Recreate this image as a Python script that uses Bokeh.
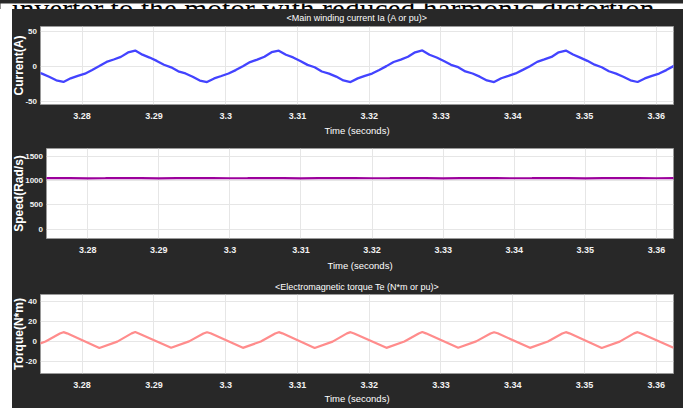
import math
from bokeh.plotting import figure
from bokeh.layouts import column, row
from bokeh.models import Spacer, FixedTicker, Range1d
from bokeh.embed import file_html
from bokeh.resources import INLINE
from bokeh.core.properties import value

header_text = "inverter to the motor with reduced harmonic distortion."
title_current = "<Main winding current Ia (A or pu)>"
title_torque = "<Electromagnetic torque Te (N*m or pu)>"
x_label = "Time (seconds)"
y_labels = ["Current(A)", "Speed(Rad/s)", "Torque(N*m)"]
x_ticks = [3.28, 3.29, 3.3, 3.31, 3.32, 3.33, 3.34, 3.35, 3.36]
x_tick_labels = ["3.28", "3.29", "3.3", "3.31", "3.32", "3.33", "3.34", "3.35", "3.36"]
current_yticks = [-50, 0, 50]
current_ytick_labels = ["-50", "0", "50"]
speed_yticks = [0, 500, 1000, 1500]
speed_ytick_labels = ["0", "500", "1000", "1500"]
torque_yticks = [-20, 0, 20, 40]
torque_ytick_labels = ["-20", "0", "20", "40"]

# sampling grid (1 ms) for the current trace
current_t = [round(3.2734 + 0.001 * i, 4) for i in range(91)]
current_a = [
    -7.2, -10.6, -15.2, -20.3, -22.6, -17.4, -13.8, -10.7, -5.4, 0.2,
    6.1, 9.6, 13.4, 19.8, 22.5, 16.6, 12.4, 7.6, 2.1, -1.6,
    -7.4, -10.4, -15.1, -20.6, -22.8, -17.6, -14.1, -10.5, -5.6, -0.1,
    5.9, 9.4, 13.6, 20.1, 22.3, 16.4, 12.6, 7.4, 1.9, -1.5,
    -7.6, -10.6, -14.9, -20.4, -22.7, -17.5, -13.9, -10.6, -5.5, 0.1,
    6.0, 9.5, 13.5, 19.9, 22.6, 16.5, 12.5, 7.5, 2.0, -1.4,
    -7.5, -10.5, -15.0, -20.5, -22.8, -17.3, -14.0, -10.4, -5.3, 0.0,
    6.2, 9.7, 13.3, 20.0, 22.4, 16.7, 12.3, 7.7, 2.2, -1.5,
    -7.3, -10.7, -15.1, -20.2, -22.7, -17.6, -13.8, -10.6, -5.6, 0.1,
    6.0,
]

speed_t = [round(3.2725 + 0.0025 * i, 4) for i in range(37)]
speed_w = [
    1050, 1053, 1051, 1047, 1049, 1053, 1050, 1047, 1050, 1052, 1051, 1048,
    1049, 1053, 1050, 1047, 1050, 1052, 1050, 1048, 1049, 1053, 1051, 1047,
    1050, 1052, 1050, 1048, 1050, 1053, 1050, 1047, 1049, 1052, 1051, 1048,
    1050,
]

torque_t = [
    3.2724, 3.2749, 3.2769, 3.2774, 3.2779,
    3.2824, 3.2849, 3.2869, 3.2874, 3.2879,
    3.2924, 3.2949, 3.2969, 3.2974, 3.2979,
    3.3024, 3.3049, 3.3069, 3.3074, 3.3079,
    3.3124, 3.3149, 3.3169, 3.3174, 3.3179,
    3.3224, 3.3249, 3.3269, 3.3274, 3.3279,
    3.3324, 3.3349, 3.3369, 3.3374, 3.3379,
    3.3424, 3.3449, 3.3469, 3.3474, 3.3479,
    3.3524, 3.3549, 3.3569, 3.3574, 3.3579,
    3.3624,
]
torque_nm = [
    -6.2, 0.2, 8.3, 9.6, 8.4,
    -6.3, 0.1, 8.4, 9.7, 8.3,
    -6.1, 0.3, 8.2, 9.5, 8.5,
    -6.2, 0.2, 8.3, 9.6, 8.4,
    -6.3, 0.1, 8.4, 9.6, 8.3,
    -6.2, 0.2, 8.3, 9.7, 8.4,
    -6.1, 0.3, 8.2, 9.5, 8.5,
    -6.2, 0.2, 8.3, 9.6, 8.4,
    -6.3, 0.1, 8.4, 9.6, 8.3,
    -6.2,
]

DARK = "#282828"
SANS = "Liberation Sans"
FULL_W = 671
overrides = {}
for t, l in zip(x_ticks, x_tick_labels):
    overrides[t] = l
    overrides[l] = l


def bare(width, height, xr, yr, top=0, bottom=0, fill=DARK):
    f = figure(width=width, height=height, x_range=xr, y_range=yr,
               output_backend="svg", toolbar_location=None,
               x_axis_type=None, y_axis_type=None,
               min_border_left=0, min_border_right=0,
               min_border_top=top, min_border_bottom=bottom,
               outline_line_color=None, background_fill_color=fill,
               border_fill_color=fill)
    f.grid.visible = False
    return f


def panel(width, height, top, bottom, yr, yticks, xtick_standoff, xlab_standoff):
    p = figure(
        width=width, height=height,
        x_range=Range1d(3.2742, 3.3624), y_range=yr,
        output_backend="svg", toolbar_location=None, y_axis_location=None,
        min_border_left=0, min_border_right=10,
        min_border_top=top, min_border_bottom=bottom,
        background_fill_color="white", border_fill_color=DARK,
        outline_line_color="#9a9a9a", outline_line_width=1,
    )
    ax = p.xaxis[0]
    ax.axis_line_color = None
    ax.major_tick_line_color = None
    ax.minor_tick_line_color = None
    ax.major_tick_out = 0
    ax.major_tick_in = 0
    ax.minor_tick_out = 0
    ax.minor_tick_in = 0
    ax.major_label_text_color = "#f2f2f2"
    ax.major_label_text_font = SANS
    ax.major_label_text_font_style = "bold"
    ax.major_label_text_font_size = "9px"
    ax.ticker = FixedTicker(ticks=x_ticks)
    ax.major_label_overrides = overrides
    ax.major_label_standoff = xtick_standoff
    ax.axis_label = x_label
    ax.axis_label_text_color = "#ffffff"
    ax.axis_label_text_font = SANS
    ax.axis_label_text_font_size = "9.5px"
    ax.axis_label_text_font_style = "normal"
    ax.axis_label_standoff = xlab_standoff
    p.xgrid.grid_line_color = "#e6e6e6"
    p.ygrid.ticker = FixedTicker(ticks=yticks)
    p.ygrid.grid_line_color = "#e6e6e6"
    return p


def side(width, height, top, bottom, yr, yticks, ytick_labels, text, text_x):
    f = bare(width, height, Range1d(0, width), yr, top, bottom)
    f.text(x=[width - 3.5] * len(yticks), y=yticks, text=ytick_labels,
           text_align="right", text_baseline="middle", text_color="#f2f2f2",
           text_font=value(SANS), text_font_size="8px", text_font_style="bold")
    f.text(x=[text_x], y=[(yr.start + yr.end) / 2], text=[text], angle=math.pi / 2,
           text_align="center", text_baseline="middle", text_color="#ffffff",
           text_font=value(SANS), text_font_size="12px", text_font_style="bold")
    return f


def title_strip(text, center_from_top):
    f = bare(FULL_W, 17, Range1d(0, FULL_W), Range1d(0, 17))
    f.text(x=[344.5], y=[17 - center_from_top], text=[text], text_align="center",
           text_baseline="middle", text_color="#ffffff", text_font=value(SANS),
           text_font_size="9px")
    return f


# panel 1: current
yr1 = Range1d(-55, 57)
p1 = panel(FULL_W - 28, 114, 0, 36, yr1, current_yticks, 8, 3)
p1.line(current_t, current_a, line_color="#4343ff", line_width=2.3)
s1 = side(28, 114, 0, 36, yr1, current_yticks, current_ytick_labels, y_labels[0], 6.5)
t1 = title_strip(title_current, 8)

# panel 2: speed
yr2 = Range1d(-190, 1660)
p2 = panel(FULL_W - 34, 137, 8, 39, yr2, speed_yticks, 8, 4)
p2.line(speed_t, speed_w, line_color="#9c009c", line_width=2.2)
s2 = side(34, 137, 8, 39, yr2, speed_yticks, speed_ytick_labels, y_labels[1], 6.5)

# panel 3: torque
yr3 = Range1d(-32, 47.5)
p3 = panel(FULL_W - 28, 114, 0, 35, yr3, torque_yticks, 8, 2)
p3.line(torque_t, torque_nm, line_color="#ff8c8c", line_width=2.2)
s3 = side(28, 114, 0, 35, yr3, torque_yticks, torque_ytick_labels, y_labels[2], 6.5)
t3 = title_strip(title_torque, 9)

head = bare(683, 9, Range1d(0, 683), Range1d(0, 9), fill="white")
head.text(x=[11], y=[3.5], text=[header_text], text_font=value("Liberation Serif"),
          text_font_size="29.5px", text_baseline="alphabetic", text_color="#000000")

b1 = column(t1, row(s1, p1, width=FULL_W, height=114), width=FULL_W, height=131)
b2 = row(s2, p2, width=FULL_W, height=137)
b3 = column(t3, row(s3, p3, width=FULL_W, height=114), width=FULL_W, height=131)
plots = column(b1, b2, b3, width=FULL_W, height=399)
body = row(Spacer(width=12, height=399, styles={"background-color": "white"}), plots,
           width=683, height=399)
layout = column(head, body, width=683, height=408,
                styles={"position": "absolute", "left": "0px", "top": "0px",
                        "background-color": DARK})

open("out.html", "w").write(file_html(layout, INLINE))
